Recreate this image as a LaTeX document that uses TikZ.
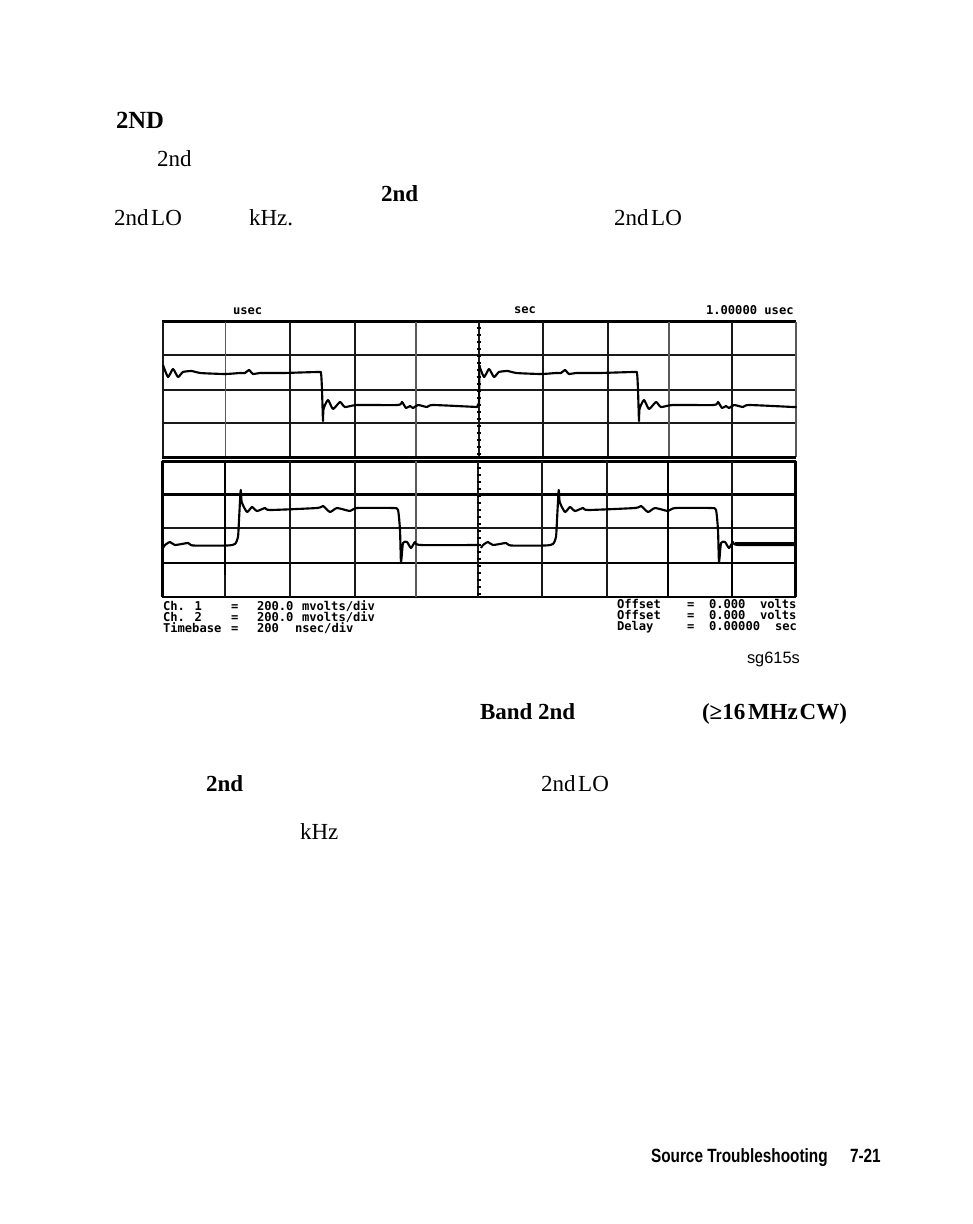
\documentclass[tikz,border=0pt]{standalone}
\usepackage{fontspec}
\setmainfont{Liberation Serif}
\newfontfamily\scopefont{DejaVu Sans Mono}
\newfontfamily\tagfont{Liberation Sans}
\newfontfamily\footfont[FakeStretch=0.8]{Liberation Sans}
\newcommand{\chonepts}{(163,365) (168,377) (173,369) (178,377) (183,372) (192,371) (200,373) (225,374) (240,373) (245,373) (249,370) (253,374) (260,373) (283,373) (318,372) (321,373) (322,390) (323,421) (323.5,409) (328,400) (333,409) (340,402) (345,407) (357,405) (398,405) (402,402) (406,408) (410,406) (413,408) (418,405) (427,407) (433,405) (477,407)}
\newcommand{\chtwopts}{(163,548) (165,545) (170,542) (175,545) (188,543) (193,545.5) (227,545.5) (235,544) (238,537) (239,520) (240.7,490) (241.7,502) (247,512) (252,507) (257,511) (265,508) (270,510) (317,508) (323,506) (330,512) (337,508) (350,511) (357,508) (393,508) (398,510) (400,530) (401,562) (403,543) (407,542) (411,548) (415,542) (420,545) (480,545)}
\tikzset{
  every node/.style={inner sep=0pt,outer sep=0pt,anchor=base west},
  grid/.style={line width=1.5pt,black!90},
  gridheavy/.style={line width=2.2pt,black},
  gridlight/.style={line width=1.3pt,black!65},
  trace/.style={line width=1.6pt,black,line join=round},
  body/.style={font=\fontsize{17.25}{20}\selectfont},
  bodybold/.style={font=\fontsize{17.25}{20}\selectfont\bfseries},
  scopetext/.style={font=\fontsize{9.1}{10}\selectfont\scopefont\bfseries},
  foot/.style={font=\fontsize{14.4}{16}\selectfont\footfont\bfseries}
}
\begin{document}
\begin{tikzpicture}[x=0.75pt,y=-0.75pt]
\useasboundingbox (0,0) rectangle (972,1224);
% body text
\node[bodybold,font=\fontsize{18.5}{20}\selectfont\bfseries] (t1) at (116,128) {2ND};
\node[body] (t2) at (157,166) {2nd};
\node[bodybold] (t3) at (381,201) {2nd};
\node[body] (t4) at (114,225) {2nd\hspace{0.12em}LO};
\node[body] (t5) at (249,225) {kHz.};
\node[body] (t6) at (614,225) {2nd\hspace{0.12em}LO};
% screen header
\node[scopetext] (h1) at (233,314) {usec};
\node[scopetext] (h2) at (514,313) {sec};
\node[scopetext] (h3) at (706,314) {1.00000 usec};
% graticule, upper panel
\foreach \yy in {355,389.5,422.5} \draw[grid] (162,\yy) -- (796,\yy);
\draw[line width=1.8pt] (162,321.5) -- (796,321.5);
\foreach \xx in {290,355,479,543,608,732} \draw[grid] (\xx,321.5) -- (\xx,457);
\foreach \xx in {225.5,416,669,796} \draw[gridlight] (\xx,321.5) -- (\xx,457);
\draw[grid] (162.5,321.5) -- (162.5,457);
% graticule, lower panel
\draw[gridheavy] (162,457.5) -- (796,457.5);
\draw[gridheavy] (162,461.5) -- (796,461.5);
\draw[gridheavy] (162,494.5) -- (796,494.5);
\draw[grid] (162,528) -- (796,528);
\draw[gridheavy] (162,563) -- (796,563);
\draw[line width=1.8pt] (162,597) -- (796,597);
\foreach \xx in {289.5,355,478,542,607} \draw[grid] (\xx,461) -- (\xx,597);
\draw[gridlight] (416,461) -- (416,597);
\draw[gridheavy] (162.5,461) -- (162.5,597);
\draw[gridheavy] (225,461) -- (225,575);
\draw[grid] (225,575) -- (225,597);
\draw[gridheavy] (668,461) -- (668,597);
\draw[grid] (732,461) -- (732,520);
\draw[gridheavy] (732,520) -- (732,597);
\draw[gridheavy] (795.5,461) -- (795.5,597);
% centre axis ticks
\foreach \yy in {328,335,...,595} \draw[line width=0.9pt] (476.5,\yy) -- (481,\yy);
% traces
\begin{scope}
\clip (162,321) rectangle (796.5,597);
\draw[trace] plot[smooth,tension=0.35] coordinates {\chonepts} -- (479,403) -- (479.5,365);
\begin{scope}[xshift=237pt]
\draw[trace] plot[smooth,tension=0.35] coordinates {\chonepts} -- (481,407);
\end{scope}
\draw[trace] plot[smooth,tension=0.35] coordinates {\chtwopts};
\begin{scope}[xshift=238.5pt]
\draw[trace] plot[smooth,tension=0.35] coordinates {\chtwopts};
\end{scope}
\draw[line width=2.2pt] (735,543) -- (796,543);
\end{scope}
% screen footer
\node[scopetext] (l1) at (163,610) {Ch. 1};
\node[scopetext] (l2) at (163,621) {Ch. 2};
\node[scopetext] (l3) at (163,632) {Timebase};
\foreach \yy/\nm in {610/a,621/b,632/c} \node[scopetext] (eq\nm) at (231,\yy) {=};
\node[scopetext] (v1) at (257,610) {200.0};
\node[scopetext] (v1b) at (302,610) {mvolts/div};
\node[scopetext] (v2) at (257,621) {200.0};
\node[scopetext] (v2b) at (302,621) {mvolts/div};
\node[scopetext] (v3) at (257,632) {200};
\node[scopetext] (v4) at (295,632) {nsec/div};
\node[scopetext] (r1) at (617,608) {Offset};
\node[scopetext] (r2) at (617,619) {Offset};
\node[scopetext] (r3) at (617,630) {Delay};
\foreach \yy/\nm in {608/d,619/e,630/f} \node[scopetext] (eq\nm) at (687,\yy) {=};
\node[scopetext] (s1) at (709,608) {0.000};
\node[scopetext] (s2) at (709,619) {0.000};
\node[scopetext] (s3) at (709,630) {0.00000};
\node[scopetext] (u1) at (760,608) {volts};
\node[scopetext] (u2) at (760,619) {volts};
\node[scopetext] (u3) at (775,630) {sec};
\node[font=\fontsize{12.3}{14}\selectfont\tagfont] (tag) at (747,663) {sg615s};
% lower body text
\node[bodybold] (b1) at (480,719) {Band 2nd};
\node[bodybold] (b2) at (702,719) {(≥16\hspace{0.12em}MHz\hspace{0.08em}CW)};
\node[bodybold] (b3) at (206,791) {2nd};
\node[body] (b4) at (541,791) {2nd\hspace{0.12em}LO};
\node[body] (b5) at (300,839) {kHz};
% page footer
\node[foot] (f1) at (651,1162) {Source Troubleshooting};
\node[foot] (f2) at (850,1162) {7-21};
\end{tikzpicture}
\end{document}
